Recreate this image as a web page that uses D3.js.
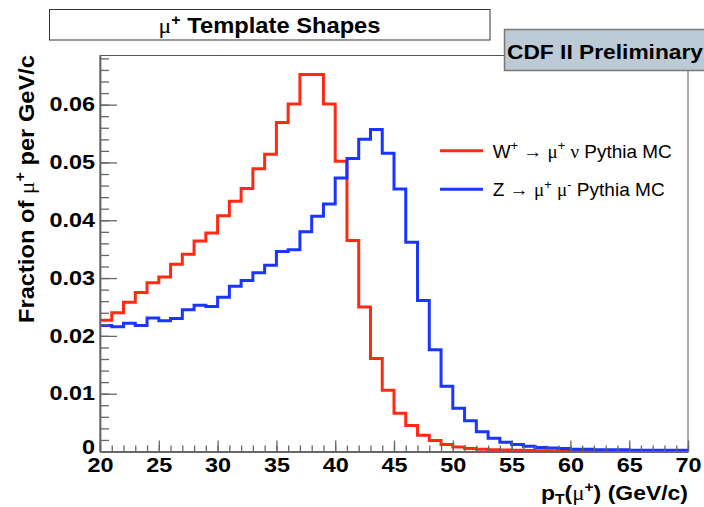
<!DOCTYPE html>
<html>
<head>
<meta charset="utf-8">
<script src="https://cdn.jsdelivr.net/npm/d3@7"></script>
<style>
  body { margin: 0; background: #fff; }
  svg { display: block; }
  text { font-family: "Liberation Sans", Arial, Helvetica, sans-serif; fill: #000; }
</style>
</head>
<body>
<div id="chart"></div>
<script>
// 1 GeV/c bins from 20 to 70
const binLow = d3.range(20, 70, 1);
const binWidth = 1;

// W+ -> mu+ nu (red), fraction per GeV/c
const wPlus = [
  0.0227, 0.0240, 0.0258, 0.0275, 0.0292, 0.0302, 0.0324, 0.0341, 0.0364, 0.0378,
  0.0408, 0.0433, 0.0455, 0.0489, 0.0514, 0.0569, 0.0601, 0.0652, 0.0652, 0.0601,
  0.0502, 0.0365, 0.0250, 0.0161, 0.0106, 0.0066, 0.0045, 0.0028, 0.0019, 0.0012,
  0.0008, 0.0005, 0.0004, 0.0003, 0.00025, 0.0002, 0.00016, 0.00013, 0.0001, 0.00008,
  0.00007, 0.00006, 0.00005, 0.00005, 0.00004, 0.00004, 0.00003, 0.00003, 0.00003, 0.00002
];

// Z -> mu+ mu- (blue)
const zMuMu = [
  0.0218, 0.0216, 0.0222, 0.0218, 0.0231, 0.0226, 0.0230, 0.0245, 0.0253, 0.0251,
  0.0267, 0.0286, 0.0296, 0.0309, 0.0322, 0.0346, 0.0349, 0.0380, 0.0407, 0.0428,
  0.0473, 0.0507, 0.0540, 0.0557, 0.0516, 0.0454, 0.0362, 0.0261, 0.0176, 0.0113,
  0.0075, 0.0053, 0.0034, 0.0023, 0.0016, 0.0012, 0.0009, 0.0007, 0.0006, 0.0005,
  0.0004, 0.0004, 0.0003, 0.0003, 0.0003, 0.0002, 0.0002, 0.0002, 0.0002, 0.0002
];

const xTicks = [20, 25, 30, 35, 40, 45, 50, 55, 60, 65, 70];
const yTicks = [0, 0.01, 0.02, 0.03, 0.04, 0.05, 0.06];
const yLabels = ['0', '0.01', '0.02', '0.03', '0.04', '0.05', '0.06'];

const colors = { w: '#ff2a12', z: '#1a35ff' };

// texte riche : segments normaux, exposants, symboles
const titleText = [{ t: 'μ', sym: true }, { t: '+', sup: true }, { t: ' Template Shapes' }];
const yTitle = [{ t: 'Fraction of ' }, { t: 'μ', sym: true }, { t: '+', sup: true }, { t: ' per GeV/c' }];
const xTitle = [{ t: 'p' }, { t: 'T', sub: true }, { t: '(' }, { t: 'μ', sym: true }, { t: '+', sup: true }, { t: ') (GeV/c)' }];
const legendW = [{ t: 'W' }, { t: '+', sup: true }, { t: ' → ' }, { t: 'μ', sym: true }, { t: '+', sup: true }, { t: ' ' }, { t: 'ν', sym: true }, { t: ' Pythia MC' }];
const legendZ = [{ t: 'Z → ' }, { t: 'μ', sym: true }, { t: '+', sup: true }, { t: ' ' }, { t: 'μ', sym: true }, { t: '-', sup: true }, { t: ' Pythia MC' }];

const width = 704;
const height = 507;

const svg = d3.select('#chart')
  .append('svg')
  .attr('width', width)
  .attr('height', height);

const x = d3.scaleLinear().domain([20, 70]).range([100, 688]);
const y = d3.scaleLinear().domain([0, 0.0685]).range([451.5, 55.5]);

function richText(sel, segs, size) {
  let shift = 0;
  segs.forEach(s => {
    const ts = sel.append('tspan').text(s.t);
    let target = 0;
    if (s.sup) target = -size * 0.38;
    if (s.sub) target = size * 0.22;
    if (target !== shift) { ts.attr('dy', target - shift); shift = target; }
    if (s.sup || s.sub) ts.style('font-size', (size * 0.68) + 'px');
    if (s.sym) ts.style('font-family', '"Liberation Serif", "DejaVu Serif", serif').style('font-weight', 'normal');
  });
  return sel;
}

function fit(sel, w) {
  sel.attr('textLength', w).attr('lengthAdjust', 'spacingAndGlyphs');
}

// cadre
svg.append('rect')
  .attr('x', x(20)).attr('y', y(0.0685))
  .attr('width', x(70) - x(20)).attr('height', y(0) - y(0.0685))
  .attr('fill', 'none').attr('stroke', '#555').attr('stroke-width', 1);

// histogrammes
const stepLine = d3.line()
  .x(d => x(d[0]))
  .y(d => y(d[1]))
  .curve(d3.curveStepAfter);

function histPoints(vals) {
  const pts = binLow.map((b, i) => [b, vals[i]]);
  pts.push([binLow[binLow.length - 1] + binWidth, vals[vals.length - 1]]);
  return pts;
}

svg.append('path')
  .attr('d', stepLine(histPoints(wPlus)))
  .attr('fill', 'none').attr('stroke', colors.w).attr('stroke-width', 3);

svg.append('path')
  .attr('d', stepLine(histPoints(zMuMu)))
  .attr('fill', 'none').attr('stroke', colors.z).attr('stroke-width', 3);

// axes
const axisColor = '#666';

const yMinor = svg.append('g').attr('transform', `translate(${x(20)},0)`)
  .call(d3.axisLeft(y).tickValues(d3.range(0, 0.0685, 0.002)).tickSize(-9).tickFormat(''));
const yAxis = svg.append('g').attr('transform', `translate(${x(20)},0)`)
  .call(d3.axisLeft(y).tickValues(yTicks).tickSize(-17).tickSizeOuter(0).tickPadding(5)
    .tickFormat((d, i) => yLabels[i]));

const xMinor = svg.append('g').attr('transform', `translate(0,${y(0)})`)
  .call(d3.axisBottom(x).tickValues(d3.range(20, 70.5, 1)).tickSize(-6).tickFormat(''));
const xAxis = svg.append('g').attr('transform', `translate(0,${y(0)})`)
  .call(d3.axisBottom(x).tickValues(xTicks).tickSize(-11).tickSizeOuter(0).tickPadding(7)
    .tickFormat(d3.format('d')));

[yMinor, xMinor].forEach(g => g.select('.domain').remove());
[yMinor, yAxis, xMinor, xAxis].forEach(g => {
  g.selectAll('line').attr('stroke', axisColor).attr('stroke-width', 1.3);
});
[yAxis, xAxis].forEach(g => {
  g.select('.domain').attr('stroke', axisColor).attr('stroke-width', 1.8);
  g.selectAll('text')
    .style('font-family', '"Liberation Sans", Arial, sans-serif')
    .style('font-size', '19.5px').style('font-weight', 'bold')
    .each(function() {
      const w = this.getComputedTextLength();
      d3.select(this).attr('textLength', w * 1.2).attr('lengthAdjust', 'spacingAndGlyphs');
    });
});
xAxis.selectAll('text').attr('dy', null).attr('y', 20.5);
// le "0" remonte un peu, comme dans ROOT
yAxis.selectAll('text').filter(d => d === 0).attr('dy', '0.1em');

// titre
svg.append('rect')
  .attr('x', 49.5).attr('y', 9.5).attr('width', 440.5).attr('height', 30.5)
  .attr('fill', '#fff').attr('stroke', '#333').attr('stroke-width', 1);
const title = svg.append('text')
  .attr('x', 158.5).attr('y', 33)
  .style('font-size', '21.5px').style('font-weight', 'bold');
richText(title, titleText, 21.5);
fit(title, 222);

// boite CDF
svg.append('rect')
  .attr('x', 504.5).attr('y', 29.5).attr('width', 220).attr('height', 41)
  .attr('fill', '#bccad5').attr('stroke', '#777').attr('stroke-width', 1.5);
const cdf = svg.append('text')
  .attr('x', 507).attr('y', 58.5)
  .style('font-size', '21px').style('font-weight', 'bold')
  .text('CDF II Preliminary');
fit(cdf, 196);

// titres des axes
const yt = svg.append('text')
  .attr('transform', 'translate(33.5,323) rotate(-90)')
  .style('font-size', '22px').style('font-weight', 'bold');
richText(yt, yTitle, 22);
fit(yt, 268);

const xt = svg.append('text')
  .attr('x', 541).attr('y', 499.5)
  .style('font-size', '20.5px').style('font-weight', 'bold');
richText(xt, xTitle, 20.5);
fit(xt, 147);

// légende
const legend = [
  { segs: legendW, color: colors.w, ly: 150.7, w: 179 },
  { segs: legendZ, color: colors.z, ly: 189.3, w: 172 }
];
legend.forEach(l => {
  svg.append('line')
    .attr('x1', 440).attr('x2', 483).attr('y1', l.ly).attr('y2', l.ly)
    .attr('stroke', l.color).attr('stroke-width', 3);
  const t = svg.append('text')
    .attr('x', 492.7).attr('y', l.ly + 7)
    .style('font-size', '19px');
  richText(t, l.segs, 19);
  fit(t, l.w);
});
</script>
</body>
</html>
